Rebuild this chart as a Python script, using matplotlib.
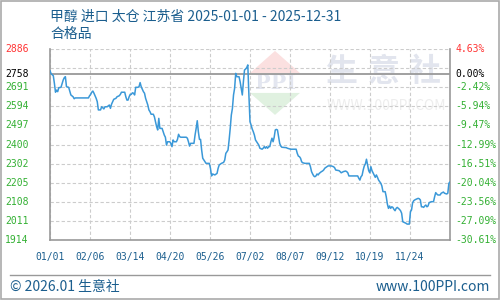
import matplotlib
matplotlib.use('Agg')
import matplotlib.pyplot as plt
import matplotlib.transforms as mtransforms
from matplotlib.patches import Polygon, Rectangle

plt.rcParams['font.family'] = ['Noto Sans CJK SC', 'DejaVu Sans']

# price series (day of year 2025, yuan/ton)
days = [0, 1, 3, 4, 5, 6, 7, 8, 10, 12, 13, 14, 15, 17, 18, 19, 21, 22, 23, 35,
        36, 37, 38, 39, 40, 41, 42, 43, 44, 46, 47, 48, 49, 50, 52, 54, 55, 56, 57, 58,
        60, 61, 63, 64, 65, 68, 69, 70, 71, 72, 73, 74, 75, 76, 77,
        78, 80, 81, 82, 83, 84, 85, 86, 87, 88, 89, 90, 91, 92, 94, 95, 96, 97, 98, 99,
        100, 102, 103, 104, 105, 106, 107, 109, 110, 111, 112, 113, 115, 116, 117, 118,
        119, 124, 125, 126, 127, 128, 131, 132, 133, 134, 135, 136, 137, 138, 139, 141,
        142, 145, 146, 147, 148, 150,
        152, 153, 154, 156, 158, 159, 160, 161, 162, 163, 164, 165, 166, 167, 168, 169,
        170, 172, 173, 174, 175, 176, 177, 178, 179, 180, 181, 182, 183, 184, 185, 186,
        187, 189, 190, 191,
        193, 194, 195, 196, 197, 198, 199, 200, 201, 202, 203, 204, 205, 206, 207, 208,
        209, 210, 211, 215, 216, 219, 224, 225, 226, 227, 228, 229, 230, 232, 236, 237,
        238, 239, 240, 241, 242, 243, 244, 245, 247, 248, 249, 250, 252, 253, 256, 258,
        259, 260, 263, 264, 265, 267, 269,
        270, 271, 272, 280, 281, 282, 283, 284, 285, 286, 287, 288, 289, 290, 291, 292,
        293, 294, 295, 296, 297, 298, 299, 300, 301, 302, 303, 305, 306, 307, 308, 309,
        310, 311, 312, 313, 314, 315, 316, 317, 318, 319, 320, 321, 323, 324, 325, 327,
        328, 329, 330, 331, 332, 333, 335, 336, 337, 338, 339, 340, 341, 342, 343, 344,
        345, 347, 349, 350, 351, 352, 353, 355, 356, 357, 358, 359, 361, 362, 363, 364]
prices = [2775, 2760, 2750, 2711, 2666, 2677, 2669, 2689, 2691, 2728, 2740, 2745, 2694, 2691, 2672, 2652, 2643, 2633, 2637, 2637,
          2648, 2655, 2666, 2672, 2661, 2648, 2635, 2618, 2576, 2576, 2592, 2587, 2581, 2592, 2592, 2601, 2584, 2605, 2618, 2630,
          2635, 2643, 2648, 2655, 2666, 2666, 2643, 2626, 2626, 2643, 2655, 2655, 2663, 2661, 2652,
          2691, 2691, 2694, 2715, 2694, 2681, 2669, 2661, 2635, 2618, 2601, 2576, 2567, 2554, 2554, 2541, 2516, 2491, 2474, 2533,
          2482, 2482, 2465, 2448, 2437, 2397, 2414, 2414, 2406, 2389, 2423, 2414, 2414, 2426, 2452, 2440,
          2437, 2437, 2432, 2414, 2392, 2406, 2406, 2448, 2482, 2521, 2465, 2426, 2426, 2372, 2330, 2312,
          2304, 2304, 2279, 2240, 2250, 2245,
          2253, 2279, 2296, 2304, 2309, 2321, 2355, 2363, 2372, 2423, 2482, 2550, 2584, 2652, 2686, 2762,
          2745, 2745, 2720, 2686, 2652, 2720, 2779, 2784, 2791, 2805, 2652, 2516, 2499, 2479, 2465, 2448,
          2423, 2406, 2397, 2381,
          2376, 2381, 2389, 2381, 2389, 2381, 2389, 2389, 2414, 2432, 2414, 2437, 2474, 2477, 2474, 2440,
          2406, 2392, 2386, 2384, 2381, 2376, 2376, 2355, 2341, 2338, 2330, 2312, 2307, 2304, 2304, 2287,
          2262, 2250, 2240, 2236, 2240, 2250, 2245, 2253, 2262, 2265, 2270, 2279, 2287, 2291, 2291, 2287,
          2282, 2270, 2267, 2262, 2256, 2262, 2265,
          2262, 2256, 2240, 2240, 2228, 2219, 2236, 2243, 2270, 2291, 2301, 2325, 2296, 2267, 2256, 2287,
          2267, 2256, 2245, 2233, 2245, 2233, 2219, 2211, 2203, 2189, 2160, 2160, 2134, 2097, 2075, 2087,
          2075, 2083, 2080, 2070, 2063, 2075, 2080, 2075, 2070, 2063, 2050, 2007, 2002, 1999, 1995, 1995,
          2058, 2067, 2104, 2114, 2118, 2121, 2126, 2124, 2118, 2083, 2083, 2080, 2087, 2092, 2083, 2087,
          2104, 2109, 2109, 2134, 2155, 2148, 2143, 2143, 2152, 2155, 2158, 2152, 2148, 2152, 2203, 2209]

base_price = 2758
y_min, y_max = 1914, 2886
left_labels = ['2886', '2758', '2691', '2594', '2497', '2400', '2302', '2205', '2108', '2011', '1914']
right_labels = ['4.63%', '0.00%', '-2.42%', '-5.94%', '-9.47%', '-12.99%', '-16.51%',
                '-20.04%', '-23.56%', '-27.09%', '-30.61%']
x_labels = ['01/01', '02/06', '03/14', '04/20', '05/26', '07/02', '08/07', '09/12', '10/19', '11/24']

title = '甲醇 进口 太仓 江苏省 2025-01-01 - 2025-12-31'
subtitle = '合格品'

blue = '#1b5e8e'
green = '#33b033'
red = '#ff3333'

fig = plt.figure(figsize=(5, 3), dpi=100)
ax = fig.add_axes([50 / 500, 60 / 300, 400 / 500, 191 / 300])
ax.set_xlim(0, 364)
ax.set_ylim(y_min, y_max)
ax.patch.set_alpha(0)

# watermark
tri_r = Polygon([(0.5, 0.874), (0.625, 0.874), (0.5625, 0.99)], closed=True,
                transform=ax.transAxes, color='#fbe0e0', zorder=0, lw=0)
tri_g = Polygon([(0.5, 0.77), (0.625, 0.77), (0.5625, 0.655)], closed=True,
                transform=ax.transAxes, color='#e0f1e0', zorder=0, lw=0)
ax.add_patch(tri_r)
ax.add_patch(tri_g)
ax.text(0.564, 0.822, 'PPI', transform=ax.transAxes, ha='center', va='center',
        fontsize=15, family='DejaVu Serif', weight='bold', color='#e3e6f0', zorder=0)
for cx, ch in zip([0.7275, 0.835, 0.9375], '生意社'):
    ax.text(cx, 0.878, ch, transform=ax.transAxes, ha='center', va='center',
            fontsize=23, weight='bold', color='#e2e5ee', zorder=0)
ax.text(0.84, 0.70, 'WWW.100PPI.COM', transform=ax.transAxes, ha='center', va='center',
        fontsize=10, color='#ededed', zorder=0)

# grid
grid_y = [y_min + (y_max - y_min) * k / 10 for k in range(11)]
grid_x = [364 * k / 10 for k in range(11)]
for gy in grid_y:
    ax.axhline(gy, color='#cccccc', lw=0.8, ls=(0, (3, 2)), zorder=1)
for gx in grid_x:
    ax.axvline(gx, color='#cccccc', lw=0.8, ls=(0, (3, 2)), zorder=1)
ax.axhline(base_price, color='#999999', lw=1.3, zorder=2)

ax.plot(days, prices, color='#3a98d8', lw=1.1, zorder=3)

for side in ['left', 'bottom', 'right']:
    ax.spines[side].set_color('#999999')
    ax.spines[side].set_linewidth(1.2)
ax.spines['top'].set_visible(False)
ax.set_xticks([])
ax.set_yticks([])

# tick labels
label_vals = [y_max, base_price, 2691.6, 2594.4, 2497.2, 2400, 2302.8, 2205.6, 2108.4, 2011.2, 1914]
trans = mtransforms.blended_transform_factory(fig.transFigure, ax.transData)
for i, (v, lt, rt) in enumerate(zip(label_vals, left_labels, right_labels)):
    c = red if i == 0 else ('black' if i == 1 else green)
    fig.text(5 / 500, v, lt, transform=trans, ha='left', va='center', color=c,
             fontsize=7, family='DejaVu Sans Mono')
    fig.text(455 / 500, v, rt, transform=trans, ha='left', va='center', color=c,
             fontsize=7, family='DejaVu Sans Mono')
transx = mtransforms.blended_transform_factory(ax.transData, fig.transFigure)
for gx, lab in zip(grid_x, x_labels):
    fig.text(gx, 1 - 257 / 300, lab, transform=transx, ha='center', va='center',
             color=blue, fontsize=7, family='DejaVu Sans Mono')

fig.text(50 / 500, 1 - 17 / 300, title, ha='left', va='center', color=blue, fontsize=10)
fig.text(50 / 500, 1 - 34 / 300, subtitle, ha='left', va='center', color=blue, fontsize=10)

# footer
fig.add_artist(plt.Line2D([10 / 500, 490 / 500], [1 - 275 / 300] * 2,
                          transform=fig.transFigure, color='#999999', lw=1))
fig.text(10 / 500, 1 - 287 / 300, '© 2026.01 生意社', ha='left', va='center', color=blue, fontsize=10)
fig.text(490 / 500, 1 - 287 / 300, 'www.100PPI.com', ha='right', va='center', color=blue, fontsize=10)
fig.add_artist(Rectangle((0.001, 0.002), 0.997, 0.996, transform=fig.transFigure,
                         fill=False, edgecolor='#aaaaaa', lw=1.2))

fig.savefig('out.png', dpi=100)
